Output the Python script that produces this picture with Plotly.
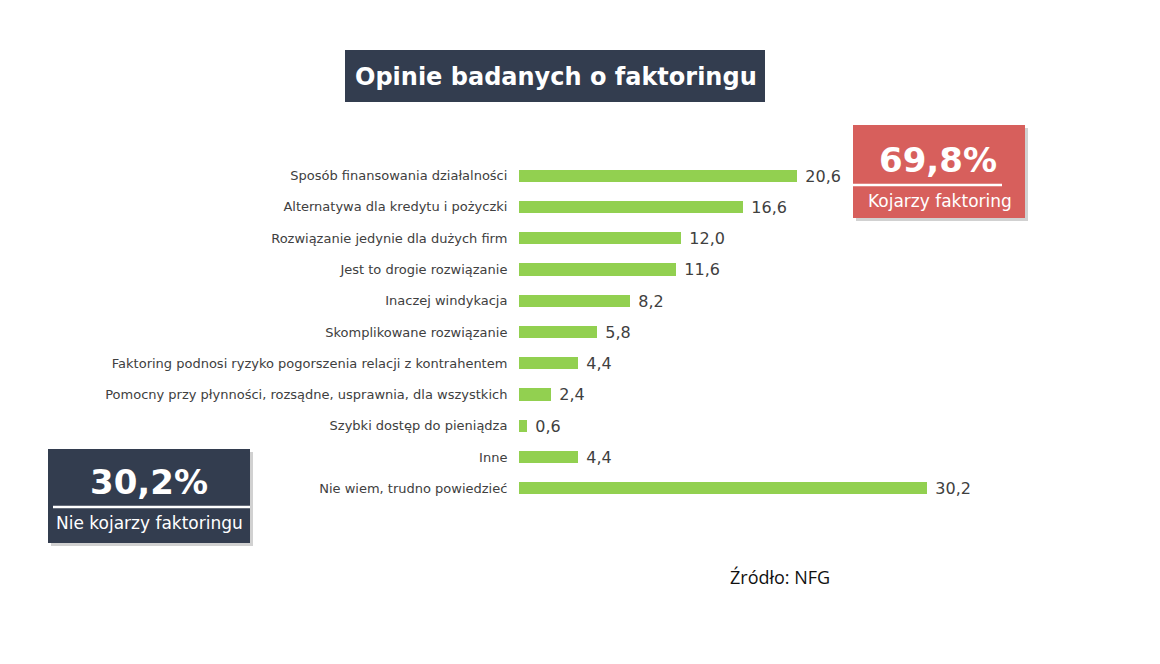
import plotly.graph_objects as go

categories = [
    "Sposób finansowania działalności",
    "Alternatywa dla kredytu i pożyczki",
    "Rozwiązanie jedynie dla dużych firm",
    "Jest to drogie rozwiązanie",
    "Inaczej windykacja",
    "Skomplikowane rozwiązanie",
    "Faktoring podnosi ryzyko pogorszenia relacji z kontrahentem",
    "Pomocny przy płynności, rozsądne, usprawnia, dla wszystkich",
    "Szybki dostęp do pieniądza",
    "Inne",
    "Nie wiem, trudno powiedzieć",
]
values = [20.6, 16.6, 12.0, 11.6, 8.2, 5.8, 4.4, 2.4, 0.6, 4.4, 30.2]

title_text = "Opinie badanych o faktoringu"
yes_pct = "69,8%"
yes_label = "Kojarzy faktoring"
no_pct = "30,2%"
no_label = "Nie kojarzy faktoringu"
source_text = "Źródło: NFG"

W, H = 1160, 664
L, R, T, B = 519, 101, 160, 160
PW, PH = W - L - R, H - T - B

def px(x):
    return (x - L) / PW

def py(y):
    return 1 - (y - T) / PH

FONT = "DejaVu Sans"
TXT = "#404040"

fig = go.Figure()
fig.add_trace(go.Bar(
    x=values, y=categories, orientation="h",
    marker=dict(color="#92d050", line=dict(width=0)),
    width=0.39,
    texttemplate="\u2004%{x:.1f}", textposition="outside",
    constraintext="none",
    textfont=dict(family=FONT, size=16, color=TXT),
    cliponaxis=False, hoverinfo="skip",
))

shapes = []
annotations = []

def rect(x0, y0, x1, y1, color, layer="above"):
    shapes.append(dict(type="rect", xref="paper", yref="paper",
                       x0=px(x0), x1=px(x1), y0=py(y1), y1=py(y0),
                       fillcolor=color, line=dict(width=0), layer=layer))

def line(x0, x1, y, color, w):
    shapes.append(dict(type="line", xref="paper", yref="paper",
                       x0=px(x0), x1=px(x1), y0=py(y), y1=py(y),
                       line=dict(color=color, width=w), layer="above"))

def text(x, y, s, size, bold=False, color="white", xanchor="center", family=FONT):
    annotations.append(dict(xref="paper", yref="paper", x=px(x), y=py(y),
                            text=("<b>%s</b>" % s) if bold else s,
                            showarrow=False, xanchor=xanchor, yanchor="middle",
                            font=dict(family=family, size=size, color=color)))

# title box
rect(345, 50, 765, 102, "#333d4f")
text(353, 77, title_text, 24, bold=True, xanchor="left")

# red box with shadow
rect(856, 128, 1028, 221, "rgba(0,0,0,0.18)")
rect(853, 125, 1025, 218, "#d75f5c")
line(853, 1002, 185, "white", 2.5)
text(938, 160, yes_pct, 34, bold=True)
text(940, 201, yes_label, 17)

# dark box with shadow
rect(51, 452, 253, 546, "rgba(0,0,0,0.18)")
rect(48, 449, 250, 543, "#333d4f")
line(53, 250, 507, "white", 2.5)
text(149, 482, no_pct, 34, bold=True)
text(149, 523, no_label, 17)

# source
text(728, 577, source_text, 18, color="#111111", xanchor="left", family="Open Sans")

fig.update_layout(
    width=W, height=H,
    margin=dict(l=L, r=R, t=T, b=B),
    paper_bgcolor="white", plot_bgcolor="white",
    separators=", ",
    showlegend=False,
    bargap=0,
    hovermode=False,
    xaxis=dict(range=[0, 40], visible=False, fixedrange=True),
    yaxis=dict(categoryorder="array", categoryarray=categories,
               range=[10.5, -0.5], showgrid=False, zeroline=False,
               showline=False, ticks="outside", ticklen=8, fixedrange=True,
               tickcolor="rgba(0,0,0,0)",
               tickfont=dict(family=FONT, size=13, color=TXT)),
    shapes=shapes, annotations=annotations,
)

fig.write_html("out.html", config={"displayModeBar": False},
               post_script="document.body.style.margin='0';")
